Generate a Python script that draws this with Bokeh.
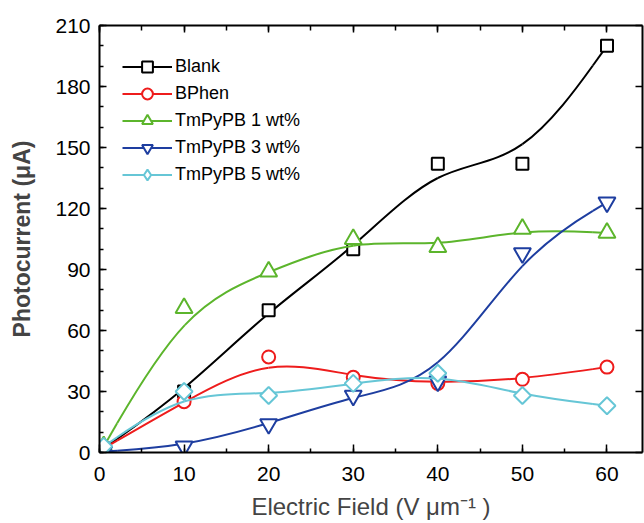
import numpy as np
from math import pi
from bokeh.plotting import figure
from bokeh.models import (ColumnDataSource, LinearAxis, SingleIntervalTicker,
                          Legend, LegendItem, Range1d, CustomJSTickFormatter,
                          CDSView, IndexFilter)
from bokeh.embed import file_html
from bokeh.resources import INLINE

# ---- data ----
field = [0.5, 10, 20, 30, 40, 50, 60]
blank = [2, 30, 70, 100, 142, 142, 200]
bphen = [2, 25, 47, 37, 34, 36, 42]
tm1 = [3, 71, 89, 105, 101, 110, 108]
tm3 = [0.5, 3, 14, 28, 35, 98, 123]
tm5 = [3, 30, 28, 34, 39, 28, 23]

series_names = ["Blank", "BPhen", "TmPyPB 1 wt%", "TmPyPB 3 wt%", "TmPyPB 5 wt%"]
series_vals = [blank, bphen, tm1, tm3, tm5]
colors = ["#000000", "#EE1C1C", "#5CB52C", "#1E3EA0", "#66C6D6"]
markers = ["square", "circle", "triangle", "inverted_triangle", "square"]
legend_markers = ["square", "circle", "triangle", "inverted_triangle", "diamond"]
sizes = [12, 13, 17, 17, 12]
angles = [0, 0, 0, 0, pi / 4]

FONT = "Liberation Sans"


def bspline_segments(xs, ys):
    """Uniform cubic B-spline with the data as control points (ends clamped),
    expressed as cubic Bezier segments."""
    qx = [xs[0]] * 2 + list(xs) + [xs[-1]] * 2
    qy = [ys[0]] * 2 + list(ys) + [ys[-1]] * 2
    out = dict(x0=[], y0=[], x1=[], y1=[], cx0=[], cy0=[], cx1=[], cy1=[])
    for i in range(len(qx) - 3):
        a, b, c, d = qx[i:i + 4]
        e, f, g, h = qy[i:i + 4]
        out["x0"].append((a + 4 * b + c) / 6)
        out["y0"].append((e + 4 * f + g) / 6)
        out["cx0"].append((2 * b + c) / 3)
        out["cy0"].append((2 * f + g) / 3)
        out["cx1"].append((b + 2 * c) / 3)
        out["cy1"].append((f + 2 * g) / 3)
        out["x1"].append((b + 4 * c + d) / 6)
        out["y1"].append((f + 4 * g + h) / 6)
    return out


p = figure(width=644, height=523, output_backend="svg", toolbar_location=None,
           x_range=Range1d(0, 64.2), y_range=Range1d(0, 210),
           min_border_left=99, min_border_right=2, min_border_top=25,
           min_border_bottom=71, x_axis_location=None, y_axis_location=None)
p.grid.visible = False
p.outline_line_color = None
p.background_fill_color = "white"
p.border_fill_color = "white"

xt = SingleIntervalTicker(interval=10, num_minor_ticks=2)
yt = SingleIntervalTicker(interval=30, num_minor_ticks=3)


def style_axis(ax, labels=True, minor=4, major=7):
    ax.axis_line_width = 2
    ax.axis_line_color = "black"
    ax.major_tick_in = major
    ax.major_tick_out = 0
    ax.minor_tick_in = minor
    ax.minor_tick_out = 0
    ax.major_tick_line_width = 1.5
    ax.minor_tick_line_width = 1.5
    ax.major_tick_line_color = "black"
    ax.minor_tick_line_color = "black" if minor else None
    ax.major_label_text_font = FONT
    ax.major_label_text_color = "black"
    ax.major_label_text_font_size = "21px"
    if not labels:
        ax.formatter = CustomJSTickFormatter(code="return ''")
        ax.major_label_standoff = 0


bottom = LinearAxis(ticker=xt, axis_label="Electric Field (V \u03bcm\u207b\u00b9 )")
style_axis(bottom, minor=4, major=8)
bottom.major_label_standoff = 14
bottom.axis_label_text_font = FONT
bottom.axis_label_text_font_size = "24px"
bottom.axis_label_text_font_style = "normal"
bottom.axis_label_standoff = 9
p.add_layout(bottom, "below")

left = LinearAxis(ticker=yt, axis_label="Photocurrent (\u03bcA)")
style_axis(left, minor=4, major=7)
left.major_label_standoff = 9
left.axis_label_text_font = FONT
left.axis_label_text_font_size = "23px"
left.axis_label_text_font_style = "bold"
left.axis_label_standoff = 17
p.add_layout(left, "left")

top = LinearAxis(ticker=SingleIntervalTicker(interval=10, num_minor_ticks=2))
style_axis(top, labels=False, minor=5, major=7)
p.add_layout(top, "above")

right = LinearAxis(ticker=SingleIntervalTicker(interval=30, num_minor_ticks=3))
style_axis(right, labels=False, minor=0, major=7)
p.add_layout(right, "right")

items = []
for name, vals, col, mk, lmk, sz, ang in zip(series_names, series_vals, colors,
                                              markers, legend_markers, sizes, angles):
    seg = ColumnDataSource(bspline_segments(field, vals))
    br = p.bezier(x0="x0", y0="y0", x1="x1", y1="y1", cx0="cx0", cy0="cy0",
                  cx1="cx1", cy1="cy1", source=seg, line_color=col, line_width=2)
    pts = ColumnDataSource(dict(x=field, y=vals))
    lr = None
    if lmk != mk:
        # legend marker: drawn only at the first point, hidden under the
        # plotted marker there
        lr = p.scatter(x="x", y="y", source=pts, marker=lmk, size=9,
                       line_color=col, line_width=2, fill_color="white",
                       view=CDSView(filter=IndexFilter([0])))
    sr = p.scatter(x="x", y="y", source=pts, marker=mk, size=sz, angle=ang,
                   line_color=col, line_width=2, fill_color="white")
    items.append(LegendItem(label=name, renderers=[br, lr if lr is not None else sr]))

legend = Legend(items=items, location=(23, 264), margin=0, padding=0,
                glyph_width=50, glyph_height=27, label_height=27,
                spacing=0, label_standoff=3,
                label_text_font=FONT, label_text_font_size="18px",
                label_text_color="black",
                border_line_color=None, background_fill_alpha=0)
p.add_layout(legend, "center")

open("out.html", "w").write(file_html(p, INLINE))
